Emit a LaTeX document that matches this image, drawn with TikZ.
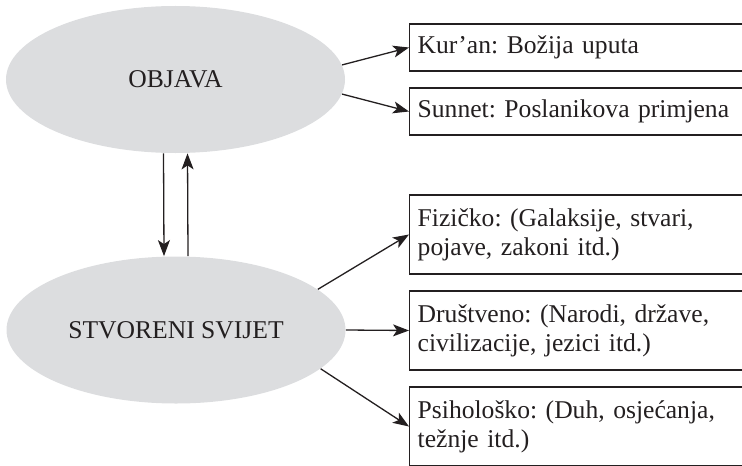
\documentclass[tikz,border=0pt]{standalone}
\usepackage{fontspec}
\setmainfont{Liberation Serif}
\usetikzlibrary{arrows.meta,shapes.geometric}
\definecolor{ink}{RGB}{35,31,32}
\definecolor{ellgray}{RGB}{220,221,223}
\frenchspacing

\begin{document}
\begin{tikzpicture}[x=0.5pt,y=-0.5pt,
   txt/.style={text=ink,font=\fontsize{12.8}{14.5}\selectfont},
   ell/.style={ellipse,fill=ellgray,inner sep=0pt,minimum width=169.5pt,minimum height=73.5pt,txt},
   box/.style={draw=ink,line width=0.7pt,anchor=west,minimum height=#1,
               text width=160.5pt,inner xsep=4pt,inner ysep=0pt,align=left,txt},
   arr/.style={draw=ink,line width=0.65pt,-{Stealth[length=8pt,width=6pt,inset=2pt]}}]
   \useasboundingbox (0,0) rectangle (742,465);
   \clip (0,0) rectangle (742,465);
 %
   \node[ell] (objava) at (175.5, 79.5) {OBJAVA};
   \node[ell] (svijet) at (176  ,330  ) {STVORENI SVIJET};
 %
   \node[box=23.5pt] (kuran)  at (409, 47.5) {Kur’an: Božija uputa};
   \node[box=23.5pt] (sunnet) at (409,111.5) {Sunnet: Poslanikova primjena};
   \node[box=39.5pt] (fizicko)    at (409,234.5) {Fizičko: (Galaksije, stvari,\\ pojave, zakoni itd.)};
   \node[box=39.5pt] (drustveno)  at (409,330.5) {Društveno: (Narodi, države,\\ civilizacije, jezici itd.)};
   \node[box=39.5pt] (psiholosko) at (409,426.5) {Psihološko: (Duh, osjećanja,\\ težnje itd.)};
 %
   \draw[arr] (objava.5)  -- (kuran.west);
   \draw[arr] (objava.-5) -- (sunnet.west);
   \draw[arr] ([xshift=-6pt]objava.south) -- ([xshift=-6pt]svijet.north);
   \draw[arr] ([xshift= 6pt]svijet.north) -- ([xshift= 6pt]objava.south);
   \draw[arr] (svijet.16)   -- (fizicko.west);
   \draw[arr] (svijet.east) -- (drustveno.west);
   \draw[arr] (svijet.-15)  -- (psiholosko.west);
\end{tikzpicture}
\end{document}
